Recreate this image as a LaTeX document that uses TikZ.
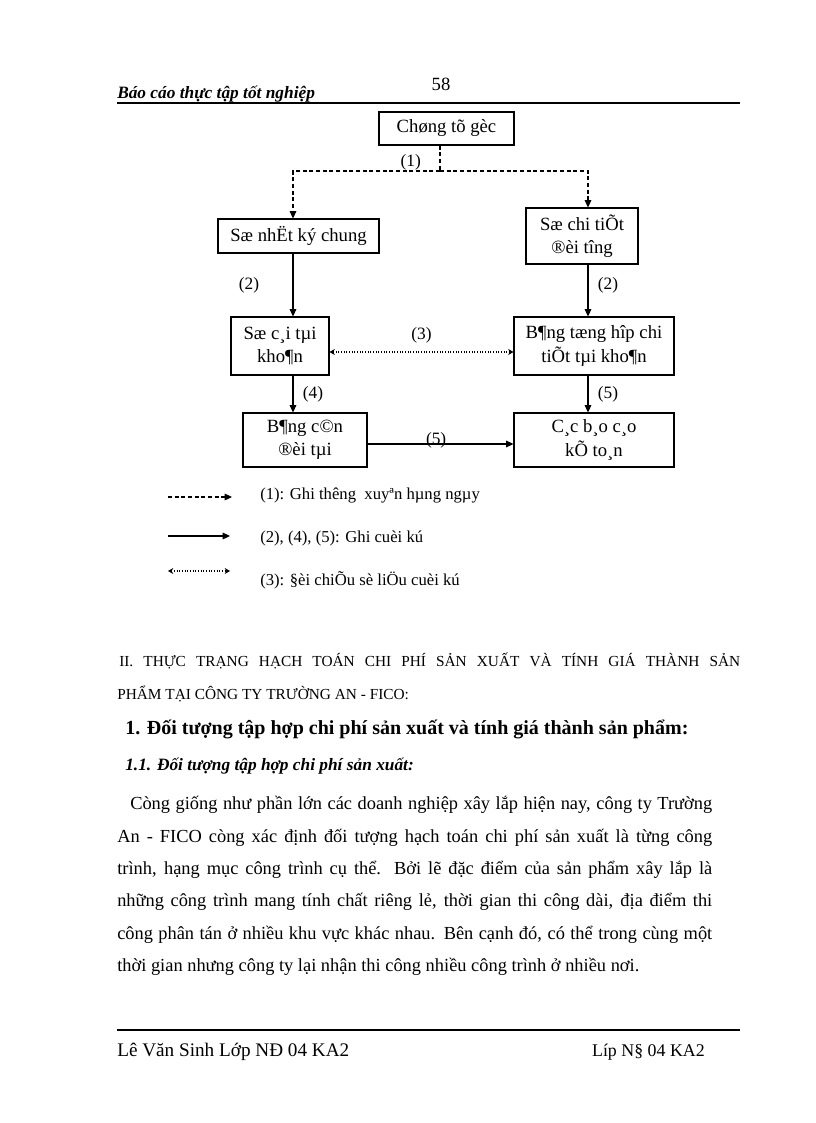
\documentclass[tikz,border=0pt]{standalone}
\usepackage{fontspec}
\setmainfont{Liberation Serif}
\usetikzlibrary{arrows.meta,positioning}

\begin{document}
\begin{tikzpicture}[
    x=0.75pt,y=-0.75pt,
    box/.style={draw,line width=0.8pt,inner sep=0pt,align=center,
                font=\fontsize{14}{17.5}\selectfont},
    lbl/.style={font=\fontsize{13}{15}\selectfont,inner sep=1pt},
    dsh/.style={line width=0.8pt,dash pattern=on 3pt off 2pt},
    dts/.style={line width=0.8pt,dash pattern=on 0.8pt off 1.2pt},
    sld/.style={line width=0.8pt},
    tip/.style={-{Triangle[length=5.5pt,width=5pt]}},
    tips/.style={{Stealth[length=4pt,width=4.5pt]}-{Stealth[length=4pt,width=4.5pt]}},
    txt/.style={anchor=base west,inner sep=0pt,font=\fontsize{13.8}{16}\selectfont}]
\useasboundingbox (0,0) rectangle (816,1123);

% page head
\node (pg) [anchor=base,inner sep=0pt,font=\fontsize{14}{16}\selectfont] at (441,91) {58};
\node (hd) [txt,font=\fontsize{13}{16}\bfseries\itshape] at (117,99) {Báo cáo thực tập tốt nghiệp};
\draw[line width=1.2pt] (117,103) -- (740,103);

% diagram
\coordinate (cl) at (293,0);
\coordinate (cr) at (588,0);
\coordinate (j1) at (440,171);
\node (src)  [box,minimum width=101.25pt,minimum height=24.75pt] at (446.5,128.5) {Chøng tõ gèc};
\node (nkc)  [box,minimum width=120.75pt,minimum height=25.5pt] at (298.5,236) {Sæ nhËt ký chung};
\node (sct)  [box,minimum width=84pt,minimum height=42pt] at (582,236) {Sæ chi tiÕt\\®èi tîng};
\node (sc)   [box,minimum width=73.5pt,minimum height=43.5pt] at (280,346) {Sæ c¸i tµi\\kho¶n};
\node (bth)  [box,minimum width=120pt,minimum height=43.5pt] at (594,346) {B¶ng tæng hîp chi\\tiÕt tµi kho¶n};
\node (bcd)  [box,minimum width=93pt,minimum height=40.5pt] at (305,440) {B¶ng c©n\\®èi tµi};
\node (bckt) [box,minimum width=120pt,minimum height=40.5pt] at (594,440) {C¸c b¸o c¸o\\kÕ to¸n};

\draw[dsh] (src.south -| j1) -- node[lbl,pos=1,anchor=south east,xshift=-14pt,inner sep=0pt] (n1) {(1)} (j1);
\draw[dsh,tip] (j1) -| (nkc.north -| cl);
\draw[dsh,tip] (j1) -| (sct.north -| cr);
\draw[sld,tip] (nkc.south -| cl) -- node[lbl,left=24pt] (n2a) {(2)} (sc.north -| cl);
\draw[sld,tip] (sct.south -| cr) -- node[lbl,pos=0.4,right=6pt] (n2b) {(2)} (bth.north -| cr);
\draw[dts,tips] ([yshift=-4.5pt]sc.east) -- node[lbl,above=5pt] (n3) {(3)} ([yshift=-4.5pt]bth.west);
\draw[sld,tip] (sc.south -| cl) -- node[lbl,right=6pt] (n4) {(4)} (bcd.north -| cl);
\draw[sld,tip] (bth.south -| cr) -- node[lbl,right=6pt] (n5a) {(5)} (bckt.north -| cr);
\draw[sld,tip] ([yshift=-3pt]bcd.east) -- node[lbl,pos=0.47,yshift=3pt] (n5b) {(5)} ([yshift=-3pt]bckt.west);

% legend
\coordinate (a1) at (168,497); \coordinate (b1) at (232,497);
\coordinate (a2) at (168,536); \coordinate (b2) at (230,536);
\coordinate (a3) at (168,571); \coordinate (b3) at (230,571);
\draw[dsh,tip] (a1) -- (b1);
\draw[sld,tip] (a2) -- (b2);
\draw[dts,tips] (a3) -- (b3);
\node (l1) [txt,font=\fontsize{12.5}{15}\selectfont] at (260,499) {(1): Ghi thêng\ \ xuyªn hµng ngµy};
\node (l2) [txt,font=\fontsize{12.5}{15}\selectfont] at (260,542) {(2), (4), (5): Ghi cuèi kú};
\node (l3) [txt,font=\fontsize{12.5}{15}\selectfont] at (260,585) {(3): §èi chiÕu sè liÖu cuèi kú};

% text
\node (t1) [txt,font=\fontsize{11.5}{14}\selectfont] at (119,666)
  {\makebox[465.75pt][s]{II. THỰC TRẠNG HẠCH TOÁN CHI PHÍ SẢN XUẤT VÀ TÍNH GIÁ THÀNH SẢN}};
\node (t2) [txt,font=\fontsize{11.5}{14}\selectfont] at (117,699) {PHẨM TẠI CÔNG TY TRƯỜNG AN - FICO:};
\node (t3) [txt,font=\fontsize{15}{17}\bfseries] at (125,734)
  {1. Đối tượng tập hợp chi phí sản xuất và tính giá thành sản phẩm:};
\node (t4) [txt,font=\fontsize{13}{15}\bfseries\itshape] at (125,770)
  {1.1. Đối tượng tập hợp chi phí sản xuất:};
\node (p1) [txt] at (130,809)
  {\makebox[436.5pt][s]{Còng giống như phần lớn các doanh nghiệp xây lắp hiện nay, công ty Trường}};
\node (p2) [txt] at (117,842)
  {\makebox[446.25pt][s]{An - FICO còng xác định đối tượng hạch toán chi phí sản xuất là từng công}};
\node (p3) [txt] at (117,874)
  {\makebox[446.25pt][s]{trình, hạng mục công trình cụ thể. Bởi lẽ đặc điểm của sản phẩm xây lắp là}};
\node (p4) [txt] at (117,906)
  {\makebox[446.25pt][s]{những công trình mang tính chất riêng lẻ, thời gian thi công dài, địa điểm thi}};
\node (p5) [txt] at (117,939)
  {\makebox[446.25pt][s]{công phân tán ở nhiều khu vực khác nhau. Bên cạnh đó, có thể trong cùng một}};
\node (p6) [txt] at (117,971)
  {thời gian nhưng công ty lại nhận thi công nhiều công trình ở nhiều nơi.};

% page foot
\draw[line width=1.2pt] (117,1030) -- (740,1030);
\node (ft1) [txt,font=\fontsize{14.4}{16}\selectfont] at (117,1056) {Lê Văn Sinh Lớp NĐ 04 KA2};
\node (ft2) [anchor=base east,inner sep=0pt,font=\fontsize{13.4}{16}\selectfont] at (705,1056) {Líp N§ 04 KA2};
\end{tikzpicture}
\end{document}
